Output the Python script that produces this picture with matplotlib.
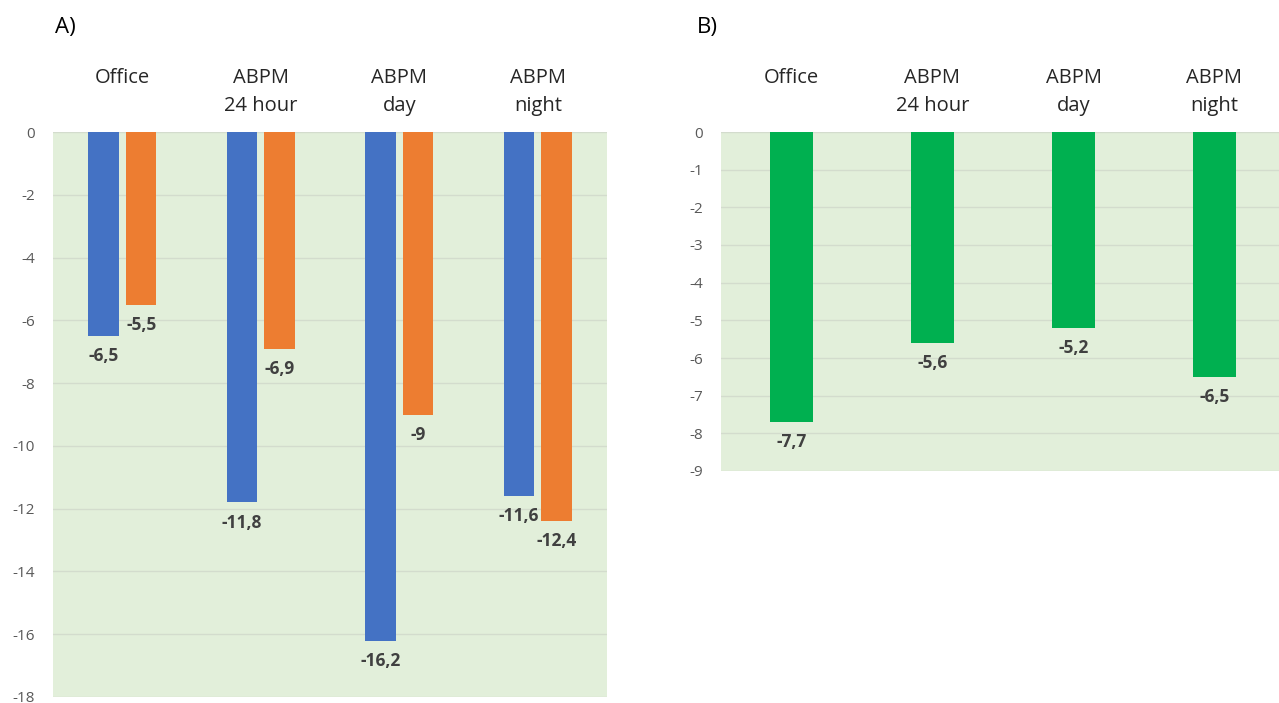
import matplotlib
matplotlib.use("Agg")
import matplotlib.pyplot as plt
import numpy as np

# data
categories = ["Office", "ABPM\n24 hour", "ABPM\nday", "ABPM\nnight"]
blue_vals = [-6.5, -11.8, -16.2, -11.6]
orange_vals = [-5.5, -6.9, -9.0, -12.4]
green_vals = [-7.7, -5.6, -5.2, -6.5]
left_ticks = list(range(0, -20, -2))
right_ticks = list(range(0, -10, -1))

plt.rcParams['font.family'] = ['Open Sans', 'DejaVu Sans']

BG = '#e2efda'
GRID = '#d3dccd'
TICKC = '#595959'
LABC = '#404040'

fig = plt.figure(figsize=(12.79, 7.03), dpi=100)
W, H = 1279, 703


def fmt(v):
    s = ('%.1f' % v).rstrip('0').rstrip('.')
    return s.replace('.', ',')


def style(ax, ticks):
    ax.set_facecolor(BG)
    for s in ax.spines.values():
        s.set_visible(False)
    ax.set_yticks(ticks)
    ax.set_yticklabels([str(t) for t in ticks])
    ax.tick_params(axis='y', length=0, pad=13, labelsize=11, labelcolor=TICKC)
    ax.set_xticks([])
    ax.set_ylim(ticks[-1], 0)
    ax.set_xlim(-0.5, len(categories) - 0.5)
    ax.yaxis.grid(True, color=GRID, lw=1)
    ax.set_axisbelow(True)
    for i, c in enumerate(categories):
        ax.annotate(c, xy=(i, 1), xycoords=('data', 'axes fraction'),
                    xytext=(0, 46), textcoords='offset points',
                    ha='center', va='top', fontsize=14.5, color='#262626',
                    linespacing=1.55)


def value_labels(ax, xs, vals):
    for x, v in zip(xs, vals):
        ax.annotate(fmt(v), xy=(x, v), xytext=(0, -8), textcoords='offset points',
                    ha='center', va='top', fontsize=12.5, fontweight='bold',
                    color=LABC)


# panel A
axA = fig.add_axes([53 / W, (H - 697) / H, 554 / W, 565 / H])
style(axA, left_ticks)
x = np.arange(len(categories))
bw = 0.22
off = 0.137
axA.bar(x - off, blue_vals, bw, color='#4472c4')
axA.bar(x + off, orange_vals, bw, color='#ed7d31')
value_labels(axA, x - off, blue_vals)
value_labels(axA, x + off, orange_vals)
fig.text(55 / W, (H - 27) / H, 'A)', fontsize=16, va='center', ha='left')

# panel B
axB = fig.add_axes([721 / W, (H - 471) / H, 564 / W, 339 / H])
style(axB, right_ticks)
axB.bar(x, green_vals, 0.31, color='#00b050')
value_labels(axB, x, green_vals)
fig.text(697 / W, (H - 27) / H, 'B)', fontsize=16, va='center', ha='left')

fig.savefig('out.png', dpi=100, facecolor='white')
